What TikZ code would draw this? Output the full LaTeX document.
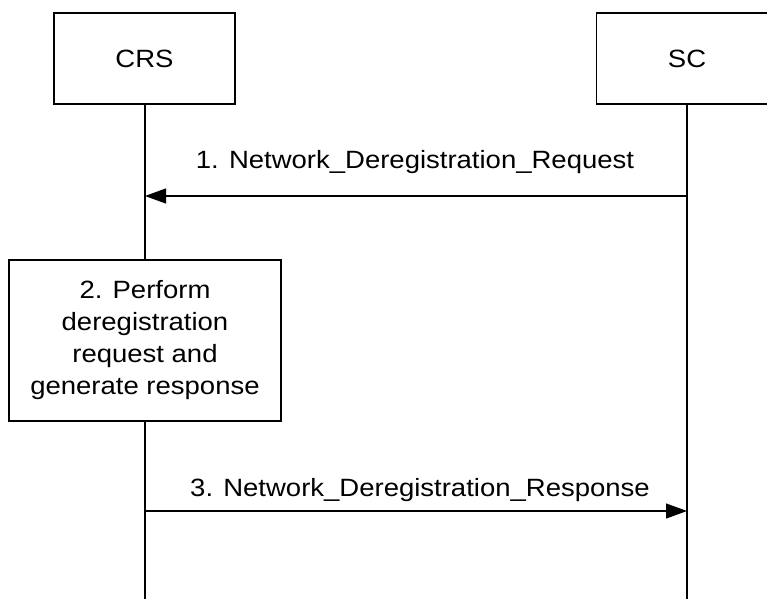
\documentclass[tikz,border=0pt]{standalone}
\usepackage{fontspec}
\setmainfont[FakeStretch=1.1]{Liberation Sans}
\usetikzlibrary{arrows.meta}
\begin{document}
\begin{tikzpicture}[x=1pt,y=-1pt,
  every node/.style={font=\fontsize{25}{32}\selectfont},
  entity/.style={draw,line width=1.2pt,minimum width=181pt,minimum height=91pt,inner sep=0pt},
  procbox/.style={draw,line width=1.2pt,minimum width=272pt,minimum height=161pt,inner sep=0pt,align=center},
  life/.style={line width=1.2pt},
  msg/.style={line width=1.2pt,-{Triangle[length=21pt,width=15pt]}},
  lbl/.style={inner sep=0pt}]
\useasboundingbox (0,0) rectangle (767,599);
\clip (0,0) rectangle (767,599);
\node[entity] (crs) at (144.5,58.5) {CRS};
\node[entity] (sc) at (687,58.5) {SC};
\node[procbox] (p2) at (145,340.5) {2. Perform\\deregistration\\request and\\generate response};
\coordinate (crsend) at (145,599);
\coordinate (scend) at (687,599);
\coordinate (a1s) at (687,196);
\coordinate (a1e) at (145,196);
\coordinate (a3s) at (145,511);
\coordinate (a3e) at (687,511);
\draw[life] (crs.south -| p2.north) -- (p2.north);
\draw[life] (p2.south) -- (crsend);
\draw[life] (sc.south) -- (scend);
\draw[msg] (a1s) -- (a1e);
\draw[msg] (a3s) -- (a3e);
\node[lbl] (l1) at (415,162) {1. Network\_Deregistration\_Request};
\node[lbl] (l3) at (420,490) {3. Network\_Deregistration\_Response};
\end{tikzpicture}
\end{document}
